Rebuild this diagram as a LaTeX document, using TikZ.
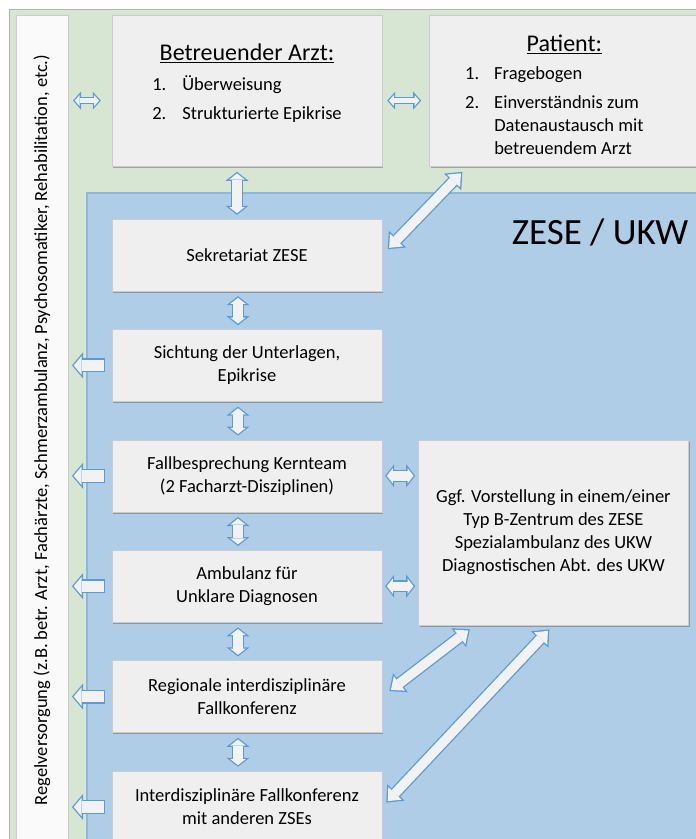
\documentclass[tikz,border=0pt]{standalone}
\usepackage{fontspec}
\setmainfont{Carlito}
\usetikzlibrary{arrows.meta,positioning,shadows}
\definecolor{rahmengruen}{HTML}{D7E6D2}
\definecolor{zeseblau}{HTML}{AFCDE6}
\definecolor{zeserand}{HTML}{8DB6DC}
\definecolor{pfeilblau}{HTML}{5B9BD5}
\definecolor{pfeilgrau}{HTML}{F2F2F2}
\definecolor{kastengrau}{HTML}{EFEFEF}
\tikzset{
  stepbox/.style={draw=gray!40, fill=kastengrau, minimum width=270pt, minimum height=72pt, align=center, inner sep=3pt, font=\fontsize{18.5}{23}\selectfont, drop shadow={shadow xshift=1.2pt, shadow yshift=-1.8pt, opacity=.45, fill=gray!70!black}},
  headbox/.style={stepbox, minimum height=151pt},
  infobox/.style={stepbox, minimum height=185pt},
  sidebox/.style={stepbox, fill=gray!4, rotate=90, minimum width=830pt, minimum height=52pt},
  zesetitel/.style={font=\fontsize{37}{44}\selectfont, inner sep=0pt},
  pairflow/.style 2 args={draw=pfeilgrau, line width=9.4pt, arrows={Triangle[length=6.05pt,width=15.5pt,line width=0pt]-Triangle[length=6.05pt,width=15.5pt,line width=0pt]}, shorten <=#1+1.65pt, shorten >=#2+1.65pt,
    preaction={draw=pfeilblau, line width=12pt, arrows={Triangle[length=9pt,width=23pt,line width=0pt]-Triangle[length=9pt,width=23pt,line width=0pt]}, shorten <=#1, shorten >=#2}},
  topflow/.style 2 args={draw=pfeilgrau, line width=4.4pt, arrows={Triangle[length=4.96pt,width=11.2pt,line width=0pt]-Triangle[length=4.96pt,width=11.2pt,line width=0pt]}, shorten <=#1+1.74pt, shorten >=#2+1.74pt,
    preaction={draw=pfeilblau, line width=7pt, arrows={Triangle[length=8pt,width=18pt,line width=0pt]-Triangle[length=8pt,width=18pt,line width=0pt]}, shorten <=#1, shorten >=#2}},
  diagflow/.style 2 args={draw=pfeilgrau, line width=9.4pt, arrows={Triangle[length=10.7pt,width=18.3pt,line width=0pt]-Triangle[length=10.7pt,width=18.3pt,line width=0pt]}, shorten <=#1+2pt, shorten >=#2+2pt,
    preaction={draw=pfeilblau, line width=12pt, arrows={Triangle[length=14pt,width=24pt,line width=0pt]-Triangle[length=14pt,width=24pt,line width=0pt]}, shorten <=#1, shorten >=#2}},
  backflow/.style 2 args={draw=pfeilgrau, line width=11.4pt, arrows={-Triangle[length=8pt,width=18.9pt,line width=0pt]}, shorten <=#1+1.3pt, shorten >=#2+1.7pt,
    preaction={draw=pfeilblau, line width=14pt, arrows={-Triangle[length=11pt,width=26pt,line width=0pt]}, shorten <=#1, shorten >=#2}}
}
\begin{document}
\begin{tikzpicture}[x=1pt, y=-1pt, node distance=38pt]
  \useasboundingbox (0,0) rectangle (696,839);
  \draw[fill=rahmengruen, draw=gray!60, line width=1pt] (9,9) rectangle (710,850);
  \draw[fill=zeseblau, draw=zeserand, line width=1.5pt] (87,193) rectangle (710,850);

  \node[sidebox] (regel) at (42,430) {Regelversorgung (z.B. betr. Arzt, Fachärzte, Schmerzambulanz, Psychosomatiker, Rehabilitation, etc.)};
  \coordinate (regelrand) at (72,0);

  \node[stepbox] (sekr) at (247,255) {Sekretariat ZESE};
  \node[stepbox, below=of sekr] (sicht) {Sichtung der Unterlagen,\\Epikrise};
  \node[stepbox, below=of sicht] (fall) {Fallbesprechung Kernteam\\(2 Facharzt-Disziplinen)};
  \node[stepbox, below=of fall] (amb) {Ambulanz für\\Unklare Diagnosen};
  \node[stepbox, below=of amb] (reg) {Regionale interdisziplinäre\\Fallkonferenz};
  \node[stepbox, below=of reg] (inter) {Interdisziplinäre Fallkonferenz\\mit anderen ZSEs};

  \node[headbox, above=52pt of sekr] (arzt) {\underline{\fontsize{24}{29}\selectfont Betreuender Arzt:}\\[10pt]
    \begin{tabular}{@{}r@{\hspace{16pt}}l@{}}
      1. & Überweisung\\[6pt]
      2. & Strukturierte Epikrise\\[12pt]
    \end{tabular}};
  \node[headbox, right=47pt of arzt] (pat) {\rule{0pt}{31pt}\underline{\fontsize{24}{29}\selectfont Patient:}\\[9pt]
    \begin{tabular}{@{}r@{\hspace{15pt}}l@{\hspace{20pt}}}
      1. & Fragebogen\\[6pt]
      2. & Einverständnis zum\\
         & Datenaustausch mit\\
         & betreuendem Arzt
    \end{tabular}};

  \node[infobox, right=36pt of fall.north east, anchor=north west] (ggf) {Ggf. Vorstellung in einem/einer\\Typ B-Zentrum des ZESE\\Spezialambulanz des UKW\\Diagnostischen Abt. des UKW};
  \node[zesetitel] (titel) at (600,232) {ZESE / UKW};

  \coordinate (arztlinks) at ([yshift=-9.5pt]arzt.west);
  \draw[topflow={11pt}{1pt}] (arztlinks) -- (arztlinks -| regelrand);
  \draw[topflow={5pt}{8pt}] (arztlinks -| arzt.east) -- (arztlinks -| pat.west);
  \draw[pairflow={5pt}{4pt}] ([xshift=-10pt]arzt.south) -- ([xshift=-10pt]arzt.south |- sekr.north);
  \foreach \a/\b in {sekr/sicht, sicht/fall, fall/amb, amb/reg, reg/inter}
    \draw[pairflow={5pt}{4pt}] ([xshift=-9pt]\a.south) -- ([xshift=-9pt]\b.north);
  \foreach \n in {sicht, fall, amb, reg, inter}
    \draw[backflow={7pt}{0pt}] (\n.west) -- (\n.west -| regelrand);
  \draw[pairflow={3pt}{3pt}] (fall.east) -- (fall.east -| ggf.west);
  \draw[pairflow={3pt}{3pt}] (amb.east) -- (amb.east -| ggf.west);
  \draw[diagflow={8pt}{7pt}] (sekr.east) -- ([xshift=38pt]pat.south west);
  \draw[diagflow={9pt}{7pt}] (reg.east) -- ([xshift=-78pt]ggf.south);
  \draw[diagflow={6pt}{6pt}] (inter.east) -- (ggf.south);
\end{tikzpicture}
\end{document}
